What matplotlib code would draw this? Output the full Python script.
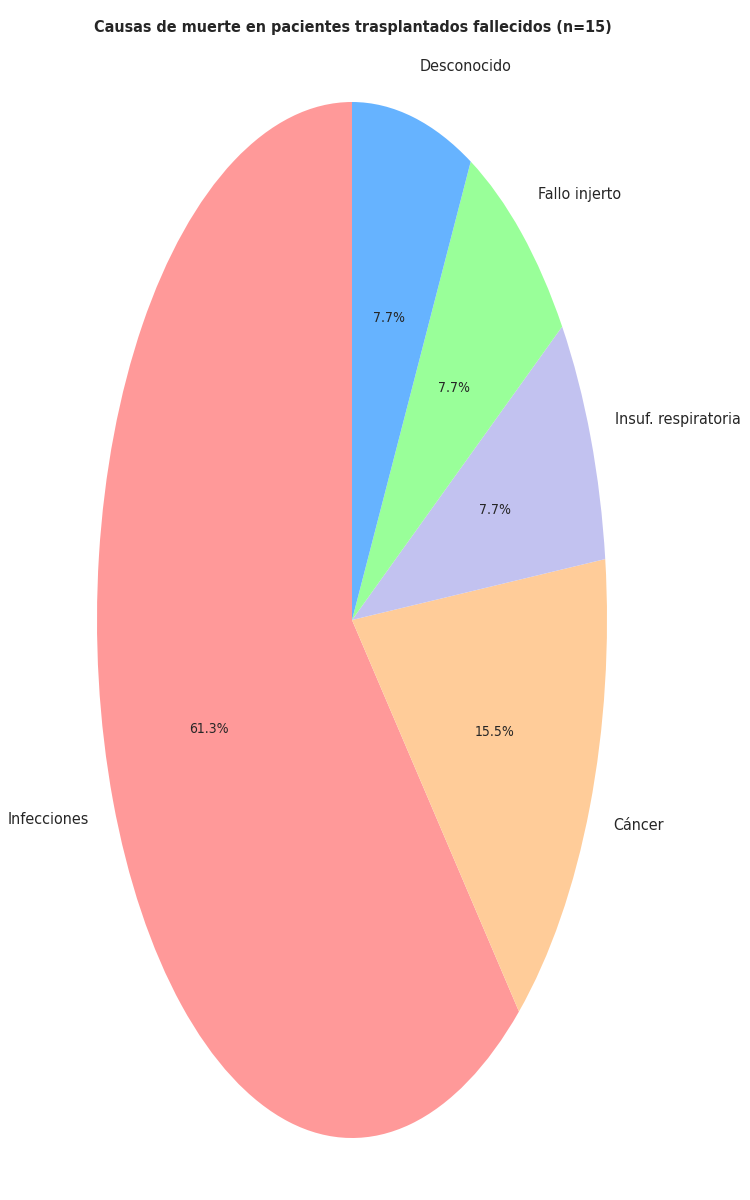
import matplotlib
matplotlib.use("Agg")
import matplotlib.pyplot as plt

# Causas de muerte (porcentajes)
causas = ["Infecciones", "Cáncer", "Insuf. respiratoria", "Fallo injerto", "Desconocido"]
porcentajes = [61.3, 15.5, 7.7, 7.7, 7.7]
colores = ["#ff9999", "#ffcc99", "#c2c2f0", "#99ff99", "#66b3ff"]
titulo = "Causas de muerte en pacientes trasplantados fallecidos (n=15)"

plt.rcParams["font.family"] = ["DejaVu Sans"]
plt.rcParams["font.stretch"] = "condensed"
plt.rcParams["text.color"] = "#262626"

fig = plt.figure(figsize=(7.5, 12), dpi=100)
ax = fig.add_axes([97 / 750, 62 / 1200, 510 / 750, 1036 / 1200])

total = sum(porcentajes)
wedges, texts, autotexts = ax.pie(
    porcentajes,
    labels=causas,
    colors=colores,
    startangle=90,
    autopct=lambda p: f"{p * total / 100:.1f}%",
    textprops={"fontsize": 11.5, "stretch": "condensed"},
)
for t in autotexts:
    t.set_fontsize(10)

ax.set_aspect("auto")
ax.set_xlim(-1, 1)
ax.set_ylim(-1, 1)
ax.axis("off")

fig.text(0.47, 0.977, titulo, ha="center", va="center", fontsize=11.5,
         fontweight="bold", stretch="condensed")

fig.savefig("out.png", dpi=100)
